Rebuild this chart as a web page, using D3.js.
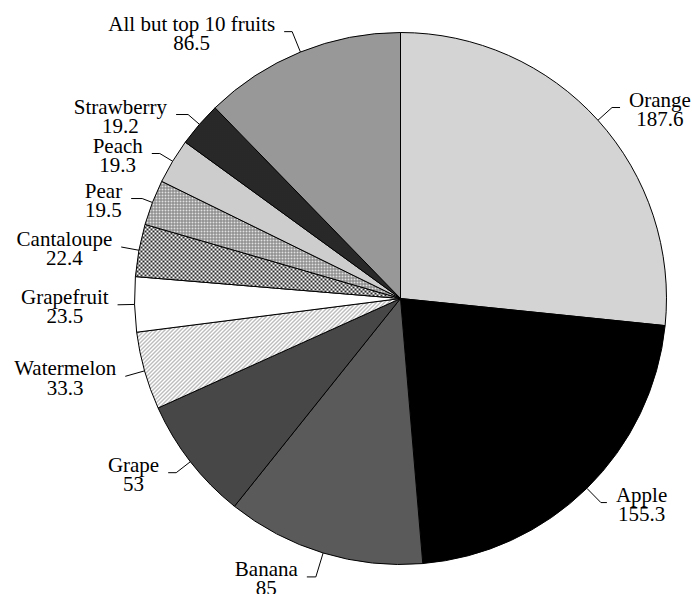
<!DOCTYPE html>
<html><head><meta charset="utf-8">
<script src="https://cdn.jsdelivr.net/npm/d3@7"></script>
<style>body{margin:0;background:#fff}svg{display:block}</style>
</head><body><svg id="c" width="692" height="594"></svg>
<script>
// ---- data ----
const fruits = ["Orange","Apple","Banana","Grape","Watermelon","Grapefruit","Cantaloupe","Pear","Peach","Strawberry","All but top 10 fruits"];
const values = [187.6,155.3,85,53,33.3,23.5,22.4,19.5,19.3,19.2,86.5];
const valueLabels = ["187.6","155.3","85","53","33.3","23.5","22.4","19.5","19.3","19.2","86.5"];

// ---- layout / style (not data) ----
const cx = 400.5, cy = 298.5, R = 266;
const elbowOff = [19,20,25,18,20,17,18,11,15,15,22];
const hSeg = [8,6,9,8,0,0,0,11,8,12,8];
const textGap = 9, lineGap = 19.3, fontSize = 21;

const svg = d3.select("#c");
const defs = svg.append("defs");

function pat(id, w, h, bg, shapes){
  const p = defs.append("pattern").attr("id", id).attr("patternUnits","userSpaceOnUse")
    .attr("width", w).attr("height", h);
  p.append("rect").attr("width", w).attr("height", h).attr("fill", bg);
  shapes(p);
  return `url(#${id})`;
}
const fills = [
  pat("pOrange",2,2,"#e2e2e2",p=>p.append("rect").attr("width",1).attr("height",2).attr("fill","#c6c6c6")),
  "#000000",
  "#5a5a5a",
  pat("pGrape",2,2,"#3a3a3a",p=>p.append("rect").attr("width",1).attr("height",1).attr("fill","#6e6e6e")),
  pat("pWater",4,4,"#ffffff",p=>p.append("path").attr("d","M0,4L4,0M-1,1L1,-1M3,5L5,3").attr("stroke","#7a7a7a").attr("stroke-width",1)),
  "#ffffff",
  pat("pCant",4,4,"#ffffff",p=>{p.append("rect").attr("width",2).attr("height",2).attr("fill","#2a2a2a");p.append("rect").attr("x",2).attr("y",2).attr("width",2).attr("height",2).attr("fill","#2a2a2a");}),
  pat("pPear",3,3,"#e2e2e2",p=>{p.append("rect").attr("width",3).attr("height",1).attr("fill","#7c7c7c");p.append("rect").attr("width",1).attr("height",3).attr("fill","#7c7c7c");}),
  pat("pPeach",2,2,"#dadada",p=>p.append("rect").attr("width",1).attr("height",1).attr("fill","#a4a4a4")),
  pat("pStraw",2,2,"#181818",p=>p.append("rect").attr("width",1).attr("height",1).attr("fill","#5a5a5a")),
  pat("pAll",2,2,"#8a8a8a",p=>p.append("rect").attr("width",1).attr("height",1).attr("fill","#c2c2c2"))
];

const rows = fruits.map((f,i)=>({name:f, value:values[i], label:valueLabels[i], i}));
const pie = d3.pie().sort(null).value(d=>d.value).startAngle(0).endAngle(2*Math.PI);
const arcs = pie(rows);
const arc = d3.arc().innerRadius(0).outerRadius(R);

const g = svg.append("g").attr("transform",`translate(${cx},${cy})`);
g.selectAll("path.slice").data(arcs).join("path")
  .attr("class","slice")
  .attr("d", arc)
  .attr("fill", d=>fills[d.data.i])
  .attr("stroke","#000").attr("stroke-width",1).attr("stroke-linejoin","round");

// labels
const lg = svg.append("g").attr("font-family","'Liberation Serif','Times New Roman',serif")
  .attr("font-size", fontSize).attr("fill","#000");
arcs.forEach(a=>{
  const i = a.data.i;
  const m = (a.startAngle + a.endAngle)/2;
  const sx = Math.sin(m), sy = -Math.cos(m);
  const p0 = [cx + R*sx, cy + R*sy];
  const re = R + elbowOff[i];
  const p1 = [cx + re*sx, cy + re*sy];
  const dir = sx >= 0 ? 1 : -1;
  const p2 = [p1[0] + dir*hSeg[i], p1[1]];
  lg.append("path").attr("d", `M${p0[0]},${p0[1]}L${p1[0]},${p1[1]}L${p2[0]},${p2[1]}`)
    .attr("fill","none").attr("stroke","#000").attr("stroke-width",1);
  const t = lg.append("text").attr("text-anchor","middle");
  const t1 = t.append("tspan").text(a.data.name);
  const t2 = t.append("tspan").text(a.data.label);
  const w = Math.max(t1.node().getComputedTextLength(), t2.node().getComputedTextLength());
  const xc = dir > 0 ? p2[0] + textGap + w/2 : p2[0] - textGap - w/2;
  const yb = p2[1] - 1;
  t1.attr("x", xc).attr("y", yb);
  t2.attr("x", xc).attr("y", yb + lineGap);
});
</script></body></html>
